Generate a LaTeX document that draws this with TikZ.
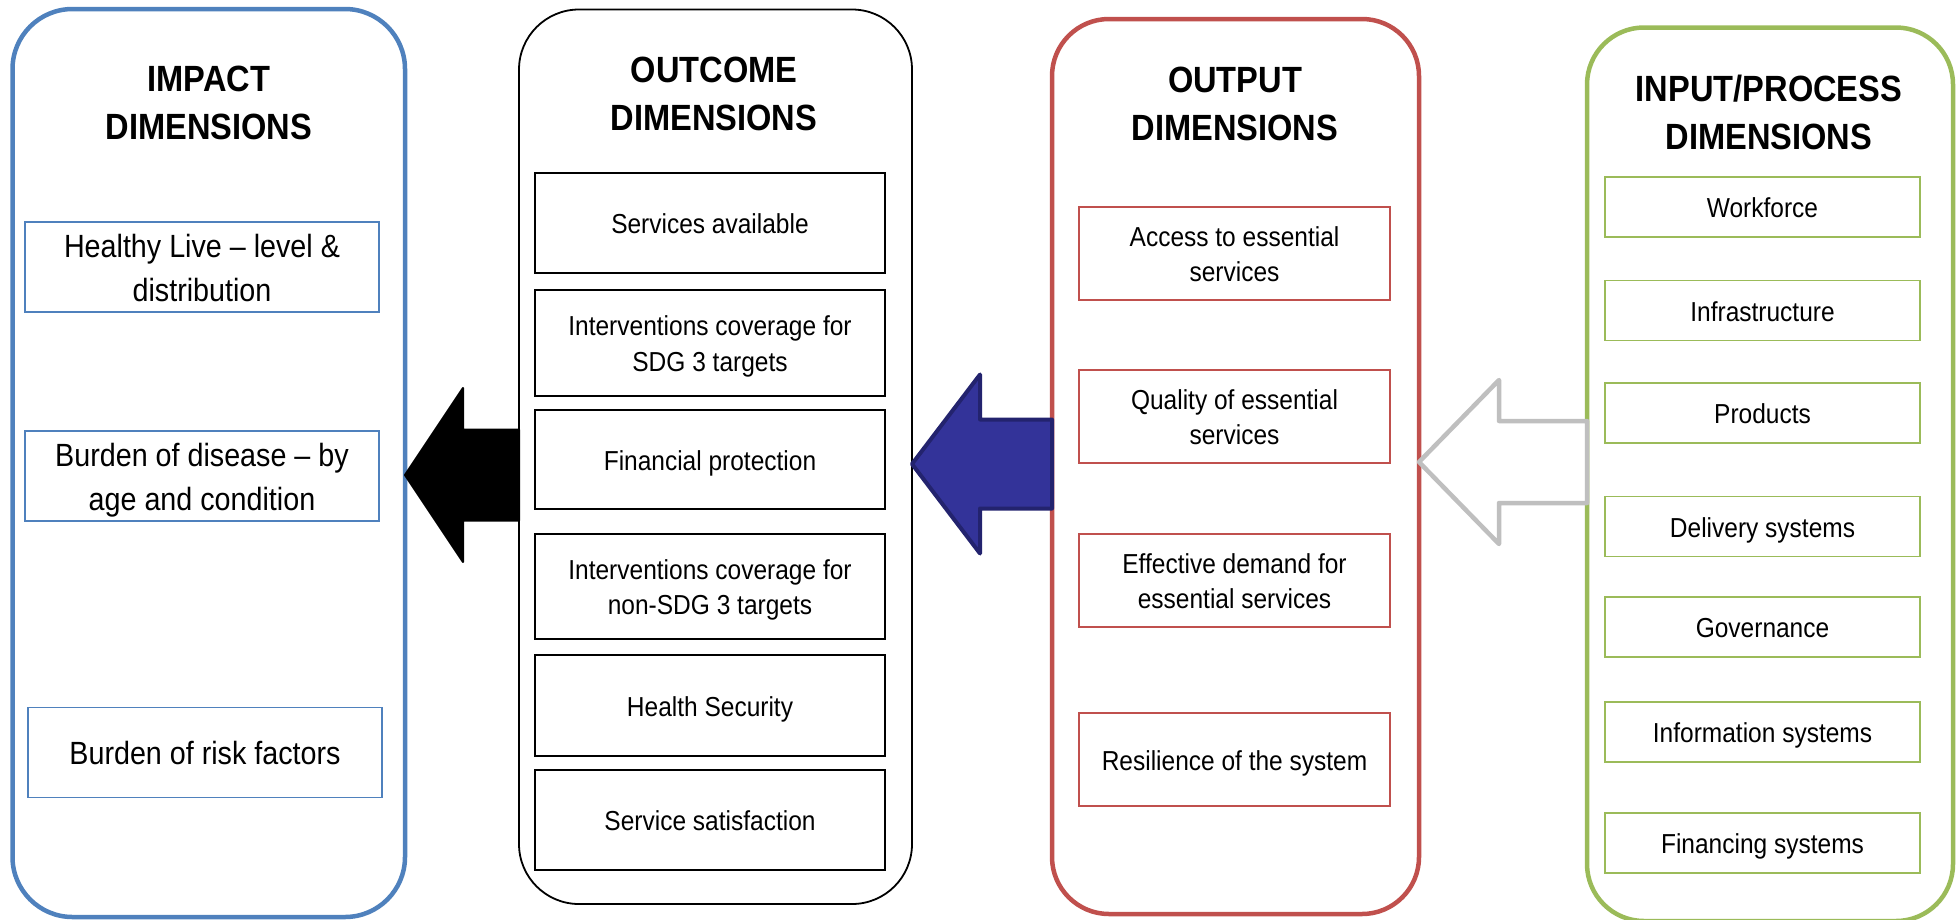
\documentclass[tikz,border=0pt]{standalone}
\usepackage{fontspec}
\setmainfont{Liberation Sans}
\usepackage{graphicx}
\usetikzlibrary{calc}

\definecolor{impactblue}{HTML}{4F81BD}
\definecolor{outred}{HTML}{C0504D}
\definecolor{inpgreen}{HTML}{9BBB59}
\definecolor{arrowblue}{HTML}{333399}
\definecolor{arrowblueline}{HTML}{23236E}
\definecolor{arrowgray}{HTML}{BFBFBF}

% vertical stretch of all lettering, and a small drop below the optical centre
\newcommand{\vst}{1.12}
\newcommand{\dropline}[1]{\raisebox{-3.5pt}[\height][\depth]{#1}}
\newcommand{\titletext}[1]{\dropline{\scalebox{1}[\vst]{\fontsize{32.6}{42.9}\selectfont\bfseries\begin{tabular}{@{}c@{}}#1\end{tabular}}}}
\newcommand{\boxtext}[1]{\dropline{\scalebox{1}[\vst]{\fontsize{24.5}{31.7}\selectfont\begin{tabular}{@{}c@{}}#1\end{tabular}}}}
\newcommand{\bigboxtext}[1]{\dropline{\scalebox{1}[\vst]{\fontsize{28.7}{39.3}\selectfont\begin{tabular}{@{}c@{}}#1\end{tabular}}}}

% block arrow: tip, tail, head length, head half-width, shaft half-width
\newcommand{\blockarrow}[6]{%
  \draw[#1] (#2) -- ($(#2)+(#4,-#5)$) -- ($(#2)+(#4,-#6)$) -- ($(#3)+(0,-#6)$)
    -- ($(#3)+(0,#6)$) -- ($(#2)+(#4,#6)$) -- ($(#2)+(#4,#5)$) -- cycle;}

\tikzset{
  panel/.style={rectangle, rounded corners=60pt, inner sep=0pt, outer sep=0pt, fill=white},
  dimbox/.style={rectangle, inner sep=0pt, outer sep=0pt, fill=white},
  ibox/.style={dimbox, draw=impactblue, line width=1.6pt, minimum width=354pt, minimum height=90pt},
  obox/.style={dimbox, draw=black, line width=1.8pt, minimum width=350pt},
  pbox/.style={dimbox, draw=outred, line width=1.8pt, minimum width=311pt, minimum height=93pt},
  nbox/.style={dimbox, draw=inpgreen, line width=1.8pt, minimum width=315pt, minimum height=60pt},
  blackarrow/.style={fill=black, draw=black, line width=2pt, line join=round},
  bluearrow/.style={fill=arrowblue, draw=arrowblueline, line width=4pt, line join=round},
  grayarrow/.style={fill=white, draw=arrowgray, line width=4.5pt, line join=round},
}

\begin{document}
\begin{tikzpicture}[x=1pt, y=-1pt]
\useasboundingbox (0,0) rectangle (1958,919);

% the four dimension panels
\node[panel, draw=impactblue, line width=4.5pt, minimum width=392.5pt, minimum height=908pt] (impact) at (208.75,463) {};
\node[panel, draw=black, line width=1.8pt, minimum width=393pt, minimum height=894.5pt] (outcome) at (715.5,456.75) {};
\node[panel, draw=outred, line width=4.5pt, minimum width=367pt, minimum height=895pt, rounded corners=57pt] (output) at (1235.5,466.5) {};
\node[panel, draw=inpgreen, line width=4.5pt, minimum width=366pt, minimum height=893.5pt, rounded corners=57pt] (input) at (1770,474.25) {};

% panel headings
\node (impactT) at (209,102) {\titletext{IMPACT\\DIMENSIONS}};
\node (outcomeT) at (714,93.5) {\titletext{OUTCOME\\DIMENSIONS}};
\node (outputT) at (1235,103.5) {\titletext{OUTPUT\\DIMENSIONS}};
\node (inputT) at (1769,112.5) {\titletext{INPUT/PROCESS\\DIMENSIONS}};

% impact dimensions
\node[ibox] (ib1) at (202,267) {\bigboxtext{Healthy Live – level \&\\distribution}};
\node[ibox] (ib2) at (202,476) {\bigboxtext{Burden of disease – by\\age and condition}};
\node[ibox] (ib3) at (205,752.5) {\bigboxtext{Burden of risk factors}};

% outcome dimensions
\node[obox, minimum height=100pt] (ob1) at (710,223) {\boxtext{Services available}};
\node[obox, minimum height=106pt] (ob2) at (710,343) {\boxtext{Interventions coverage for\\SDG 3 targets}};
\node[obox, minimum height=99pt] (ob3) at (710,459.5) {\boxtext{Financial protection}};
\node[obox, minimum height=105pt] (ob4) at (710,586.5) {\boxtext{Interventions coverage for\\non-SDG 3 targets}};
\node[obox, minimum height=101pt] (ob5) at (710,705.5) {\boxtext{Health Security}};
\node[obox, minimum height=100pt] (ob6) at (710,820) {\boxtext{Service satisfaction}};

% output dimensions
\node[pbox] (pb1) at (1234.5,253.5) {\boxtext{Access to essential\\services}};
\node[pbox] (pb2) at (1234.5,416.5) {\boxtext{Quality of essential\\services}};
\node[pbox] (pb3) at (1234.5,580.5) {\boxtext{Effective demand for\\essential services}};
\node[pbox] (pb4) at (1234.5,759.5) {\boxtext{Resilience of the system}};

% input/process dimensions
\node[nbox] (nb1) at (1762.5,207) {\boxtext{Workforce}};
\node[nbox] (nb2) at (1762.5,310.5) {\boxtext{Infrastructure}};
\node[nbox] (nb3) at (1762.5,413) {\boxtext{Products}};
\node[nbox] (nb4) at (1762.5,526.5) {\boxtext{Delivery systems}};
\node[nbox] (nb5) at (1762.5,627) {\boxtext{Governance}};
\node[nbox] (nb6) at (1762.5,732) {\boxtext{Information systems}};
\node[nbox] (nb7) at (1762.5,843) {\boxtext{Financing systems}};

% arrow tips and tails on the panel borders
\coordinate (tipA) at ($(impact.east)+(0,12)$);
\coordinate (tailA) at (outcome.west |- tipA);
\coordinate (tipB) at ($(outcome.east)+(0,7.25)$);
\coordinate (tailB) at (output.west |- tipB);
\coordinate (tipC) at ($(output.east)+(0,-4.5)$);
\coordinate (tailC) at (input.west |- tipC);

% block arrows from right to left
\blockarrow{blackarrow}{tipA}{tailA}{58}{87}{45.5}
\blockarrow{bluearrow}{tipB}{tailB}{68}{89.5}{44.5}
\blockarrow{grayarrow}{tipC}{tailC}{80}{82}{41}
\end{tikzpicture}
\end{document}
